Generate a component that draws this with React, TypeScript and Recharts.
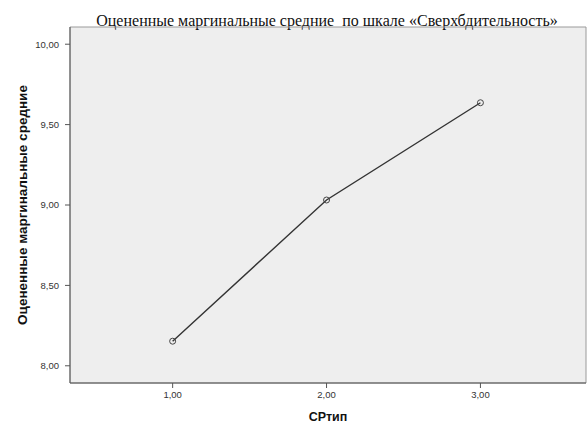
import React from "react";
import { LineChart, Line, XAxis, YAxis, CartesianGrid, ReferenceArea, Label } from "recharts";

const categories = [1, 2, 3];
const means = [8.153, 9.031, 9.636];
const xTicks = [1, 2, 3];
const yTicks = [8, 8.5, 9, 9.5, 10];
const title = "Оцененные маргинальные средние  по шкале «Сверхбдительность»";
const yTitle = "Оцененные маргинальные средние";
const xTitle = "СРтип";

const data = categories.map((c, i) => ({ x: c, y: means[i] }));

const X_DOMAIN: [number, number] = [0.333, 3.686];
const Y_DOMAIN: [number, number] = [7.893, 10.107];

const fmt = (v: number) => v.toFixed(2).replace(".", ",");

export default function App() {
  return (
    <div style={{ position: "absolute", left: 0, top: 0, width: 588, height: 423, background: "#fff" }}>
      <LineChart width={588} height={423} data={data} margin={{ top: 27, right: 2, bottom: 0, left: 20 }}>
        <CartesianGrid fill="#eeeeee" horizontal={false} vertical={false} stroke="none" />
        <ReferenceArea x1={X_DOMAIN[0]} x2={X_DOMAIN[1]} y1={Y_DOMAIN[0]} y2={Y_DOMAIN[1]} fill="none" stroke="#9a9a9a" strokeWidth={1} />
        <XAxis
          dataKey="x"
          type="number"
          domain={X_DOMAIN}
          ticks={xTicks}
          tickFormatter={fmt}
          allowDataOverflow
          height={40}
          tickSize={5}
          tickMargin={3}
          stroke="#555"
          tick={{ fill: "#333", fontSize: 9.5, fontFamily: "Liberation Sans, Arial, sans-serif" }}
        >
          <Label value={xTitle} position="insideBottom" offset={2} style={{ fontFamily: "Liberation Sans, Arial, sans-serif", fontSize: 12.5, fontWeight: "bold", fill: "#111" }} />
        </XAxis>
        <YAxis
          type="number"
          domain={Y_DOMAIN}
          ticks={yTicks}
          tickFormatter={fmt}
          allowDataOverflow
          width={50}
          tickSize={5}
          tickMargin={6}
          stroke="#555"
          tick={{ fill: "#333", fontSize: 9.5, fontFamily: "Liberation Sans, Arial, sans-serif" }}
        >
          <Label value={yTitle} angle={-90} position="insideLeft" offset={2} style={{ textAnchor: "middle", fontFamily: "Liberation Sans, Arial, sans-serif", fontSize: 13.5, fontWeight: "bold", fill: "#111" }} />
        </YAxis>
        <Line
          dataKey="y"
          stroke="#333"
          strokeWidth={1.4}
          isAnimationActive={false}
          dot={{ r: 3, stroke: "#444", strokeWidth: 1, fill: "none" }}
          activeDot={false}
        />
        <text x={327} y={26} textAnchor="middle" style={{ whiteSpace: "pre", fontFamily: "Liberation Serif, Times New Roman, serif", fontSize: 16, fill: "#111" }}>
          {title}
        </text>
      </LineChart>
    </div>
  );
}
